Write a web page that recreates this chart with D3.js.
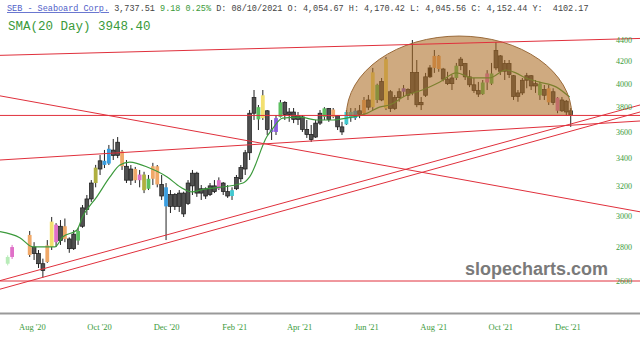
<!DOCTYPE html>
<html>
<head>
<meta charset="utf-8">
<script src="https://cdn.jsdelivr.net/npm/d3@7"></script>
<style>
  body { margin: 0; background: #fff; }
  svg { display: block; }
</style>
</head>
<body>
<div id="chart"></div>
<script>
// price bars, one every 4 calendar days starting 2020-07-10: [open, high, low, close]
const barStart = new Date(2020, 6, 10);
const barStepDays = 4;
const ohlc = [
  [2700,2750,2690,2740],[2740,2813,2728,2800],null,null,null,
  [2752,2900,2740,2875],[2800,2830,2722,2760],[2760,2782,2675,2700],[2700,2730,2620,2660],[2710,2843,2705,2810],
  [2800,2990,2782,2960],[2940,2950,2800,2830],[2840,2970,2813,2930],[2930,2980,2830,2850],[2850,2860,2765,2790],
  [2790,2906,2782,2880],[2840,2920,2813,2900],[2930,3069,2920,3050],[3040,3137,3003,3110],[3110,3241,3090,3220],
  [3220,3350,3190,3330],[3320,3423,3277,3380],[3380,3461,3327,3350],[3360,3499,3349,3470],[3460,3545,3386,3420],
  [3420,3560,3400,3520],[3450,3461,3313,3340],[3340,3386,3220,3240],[3240,3349,3206,3320],[3320,3335,3220,3240],
  [3240,3313,3190,3280],[3280,3300,3150,3170],[3180,3277,3171,3250],[3250,3365,3206,3340],[3340,3349,3190,3210],
  [3210,3277,3103,3130],[3190,3220,2843,3060],[3060,3171,3016,3140],[3140,3150,3036,3060],[3060,3171,3023,3150],
  [3150,3160,2990,3010],[3080,3241,3069,3220],[3200,3313,3137,3290],[3290,3300,3124,3150],[3150,3206,3103,3180],
  [3180,3190,3110,3130],[3140,3220,3130,3200],[3200,3241,3150,3160],[3180,3260,3171,3240],[3220,3227,3137,3160],
  [3160,3206,3117,3130],[3130,3190,3103,3170],[3180,3277,3171,3260],[3250,3349,3227,3330],[3320,3461,3277,3440],
  [3440,3776,3386,3750],[3750,3945,3695,3880],[3800,3818,3615,3700],[3710,3945,3695,3900],[3770,3776,3576,3620],
  [3620,3695,3537,3600],[3600,3735,3576,3710],[3720,3860,3715,3840],[3840,3850,3695,3740],[3740,3793,3680,3760],
  [3760,3793,3670,3700],[3700,3760,3655,3730],[3720,3735,3600,3620],[3620,3695,3553,3580],[3580,3655,3522,3540],
  [3560,3695,3553,3670],[3670,3776,3655,3750],[3720,3800,3695,3790],[3790,3793,3680,3700],[3720,3793,3710,3780],
  [3730,3735,3615,3640],[3640,3680,3576,3600],[3660,3776,3655,3760],[3760,3793,3680,3710],[3710,3793,3695,3770],
  [3770,3818,3710,3740],[3750,3885,3740,3860],[3860,3902,3776,3800],[3800,4140,3776,4100],[3990,4000,3835,3860],
  [3860,4050,3850,4020],[3790,4240,3776,4220],[3930,3945,3760,3790],[3790,3902,3776,3880],[3880,3960,3845,3930],
  [3930,3988,3885,3960],[3950,3960,3860,3900],[3920,4400,3900,4100],[4100,4212,3800,3820],[3820,3885,3776,3840],
  [3900,4095,3885,4060],[4060,4166,4050,4140],[4140,4305,4095,4250],[4250,4258,4105,4130],[4130,4140,4020,4040],
  [4040,4105,3988,4000],[4000,4076,3945,4050],[4050,4185,4032,4160],[4160,4240,4120,4220],[4180,4185,4032,4060],
  [4060,4120,3970,3990],[3990,4050,3920,3940],[3940,4015,3885,3910],[3910,4032,3902,4010],[4010,4120,3945,4090],
  [4090,4185,3988,4000],[4140,4380,4120,4300],[4250,4258,4076,4110],[4110,4212,4032,4180],[4180,4212,4050,4080],
  [4070,4076,3860,3890],[3890,3945,3845,3920],[3920,4050,3902,4030],[4030,4095,3960,4070],[4070,4076,3945,3980],
  [3980,4032,3920,4000],[4000,4015,3860,3900],[3900,3988,3860,3950],[3960,3988,3818,3840],[3840,3960,3818,3930],
  [3880,3885,3750,3770],[3770,3885,3760,3860],[3850,3860,3735,3760],[3770,3793,3640,3737.51]
];
// candle tint per bar (k = plain)
const tints = ("lpkkkokkko" + "ypkokkgkkk" + "vkbbkkokko" + "pvgookbkkk" + "kkkkkkkkpk" +
  "kckkkkkgyk" + "uugkkkkkkk" + "kkgkokkccb" + "kokygkykkk" + "ukkkkkxook" +
  "kkgkkkkkgp" + "gkkkkkkkkk" + "kgkokpkkk").split("");
const tintColors = {
  k: "#505050", l: "#b8ecb8", p: "#e070c8", o: "#f0a868", y: "#f3e070", g: "#5cc060",
  b: "#3a9ee0", c: "#40c8d0", u: "#8a5ce0", v: "#b0b040", x: "#111111"
};

// SMA(20 Day)
const smaDates = ["2020-07-03","2020-07-21","2020-08-02","2020-08-11","2020-08-22","2020-08-29","2020-09-11",
  "2020-09-16","2020-09-29","2020-10-11","2020-10-20","2020-10-29","2020-11-16","2020-12-02","2020-12-14",
  "2020-12-25","2021-01-01","2021-02-09","2021-02-15","2021-03-03","2021-03-07","2021-03-17","2021-04-02",
  "2021-04-17","2021-05-02","2021-05-14","2021-06-02","2021-06-13","2021-06-22","2021-07-08","2021-07-22",
  "2021-08-07","2021-08-22","2021-09-06","2021-09-21","2021-10-06","2021-10-15","2021-10-24","2021-11-05",
  "2021-11-21","2021-12-03"];
const smaValues = [2896,2858,2801,2801,2801,2862,2906,2990,3124,3263,3349,3371,3327,3263,3192,3158,3171,
  3220,3263,3568,3615,3710,3718,3695,3695,3710,3751,3800,3818,3902,3945,4015,4095,4050,4050,4121,4095,
  4050,4015,3970,3885];

// drawn trend lines: [start date, start price, end date, end price]
const trendLines = [
  ["2020-07-03", 4255, "2022-02-05", 4415],
  ["2020-07-03", 3732, "2022-02-05", 3732],
  ["2020-07-03", 3895, "2022-02-05", 3024],
  ["2020-07-03", 3386, "2022-02-05", 3687],
  ["2020-07-03", 2602, "2022-02-05", 3818],
  ["2020-07-03", 2554, "2022-02-05", 3760],
  ["2020-07-03", 2600, "2022-02-05", 2600]
];
// rounded-top pattern
const dome = { from: "2021-05-14", to: "2021-12-05", base: 3732, top: 4438 };

const yTicks = [2600, 2800, 3000, 3200, 3400, 3600, 3800, 4000, 4200, 4400];
const xTicks = ["2020-08-01","2020-10-01","2020-12-01","2021-02-01","2021-04-01","2021-06-01",
  "2021-08-01","2021-10-01","2021-12-01"];

const width = 640, height = 345;
const parse = d3.timeParse("%Y-%m-%d");

const x = d3.scaleTime()
  .domain([new Date(2020, 6, 3), new Date(2022, 1, 5)])
  .range([0, width]);
const y = d3.scaleLog().domain([2600, 4400]).range([281, 40]);

const svg = d3.select("#chart").append("svg")
  .attr("width", width).attr("height", height)
  .style("font-family", "'Liberation Serif', serif");

const bars = ohlc.map((d, i) => d && ({
  date: d3.timeDay.offset(barStart, i * barStepDays),
  o: d[0], h: d[1], l: d[2], c: d[3], tint: tints[i]
})).filter(Boolean);

// candles
const early = new Date(2020, 7, 1);
const candle = svg.append("g").selectAll("g").data(bars).join("g");
candle.append("line")
  .attr("x1", d => x(d.date)).attr("x2", d => x(d.date))
  .attr("y1", d => y(d.h)).attr("y2", d => y(d.l))
  .attr("stroke", d => d.date < early && d.tint !== "k" && d.tint !== "o" ? tintColors[d.tint] : "#222")
  .attr("stroke-width", 1);
candle.append("rect")
  .attr("x", d => x(d.date) - 1.9)
  .attr("width", 3.8)
  .attr("y", d => y(Math.max(d.o, d.c)))
  .attr("height", d => Math.max(1.5, Math.abs(y(d.o) - y(d.c))))
  .attr("fill", d => tintColors[d.tint])
  .attr("stroke", d => d.tint === "k" || d.tint === "x" ? "#1a1a1a" : "none")
  .attr("stroke-width", 0.7);

// SMA line
const sma = smaDates.map((d, i) => ({ date: parse(d), v: smaValues[i] }));
svg.append("path")
  .datum(sma)
  .attr("fill", "none")
  .attr("stroke", "#3c9a3c")
  .attr("stroke-width", 1.2)
  .attr("d", d3.line().x(d => x(d.date)).y(d => y(d.v)).curve(d3.curveMonotoneX));

// dome
const dx0 = x(parse(dome.from)), dx1 = x(parse(dome.to));
const dyb = y(dome.base), dyt = y(dome.top);
svg.append("path")
  .attr("d", `M${dx0},${dyb} A${(dx1 - dx0) / 2},${dyb - dyt} 0 0 1 ${dx1},${dyb} Z`)
  .attr("fill", "rgb(172,108,36)")
  .attr("fill-opacity", 0.58)
  .attr("stroke", "#9a6a3a")
  .attr("stroke-width", 1);

// trend lines
svg.append("g").selectAll("line").data(trendLines).join("line")
  .attr("x1", d => x(parse(d[0]))).attr("y1", d => y(d[1]))
  .attr("x2", d => x(parse(d[2]))).attr("y2", d => y(d[3]))
  .attr("stroke", "#e0303c")
  .attr("stroke-width", 1);

// bottom axis
svg.append("line")
  .attr("x1", 0).attr("x2", width).attr("y1", 313.5).attr("y2", 313.5)
  .attr("stroke", "#999").attr("stroke-width", 2);
const xAxis = svg.append("g")
  .attr("transform", "translate(0,313)")
  .call(d3.axisBottom(x).tickValues(xTicks.map(parse)).tickSize(0).tickPadding(11)
    .tickFormat(d3.timeFormat("%b '%y")));
xAxis.select(".domain").remove();
xAxis.selectAll("text").attr("fill", "#3a9a3a").attr("font-size", 8.5)
  .attr("font-family", "'Liberation Serif', serif");

// right axis
const yAxis = svg.append("g")
  .attr("transform", "translate(632,0)")
  .call(d3.axisLeft(y).tickValues(yTicks).tickSize(0).tickPadding(0).tickFormat(d3.format("d")));
yAxis.select(".domain").remove();
yAxis.selectAll("text").attr("fill", "#3a9a3a").attr("font-size", 8)
  .attr("font-family", "'Liberation Serif', serif");

// header
const head = svg.append("text")
  .attr("x", 7).attr("y", 11)
  .attr("font-family", "'Liberation Mono', monospace")
  .attr("font-size", 8.5)
  .attr("fill", "#444")
  .attr("xml:space", "preserve");
head.append("tspan").attr("fill", "#5060c8").attr("text-decoration", "underline").text("SEB - Seaboard Corp.");
head.append("tspan").text(" 3,737.51 ");
head.append("tspan").attr("fill", "#3a9a3a").text("9.18 0.25%");
head.append("tspan").text(" D: 08/10/2021 O: 4,054.67 H: 4,170.42 L: 4,045.56 C: 4,152.44 Y:  4102.17");

svg.append("text")
  .attr("x", 8).attr("y", 30)
  .attr("font-family", "'Liberation Mono', monospace")
  .attr("font-size", 12.5)
  .attr("fill", "#3a9a3a")
  .text("SMA(20 Day) 3948.40");

// watermark
svg.append("text")
  .attr("x", 465).attr("y", 275)
  .attr("font-family", "'Liberation Sans', sans-serif")
  .attr("font-weight", "bold")
  .attr("font-size", 18)
  .attr("fill", "#7a7a7a")
  .text("slopecharts.com");
</script>
</body>
</html>
